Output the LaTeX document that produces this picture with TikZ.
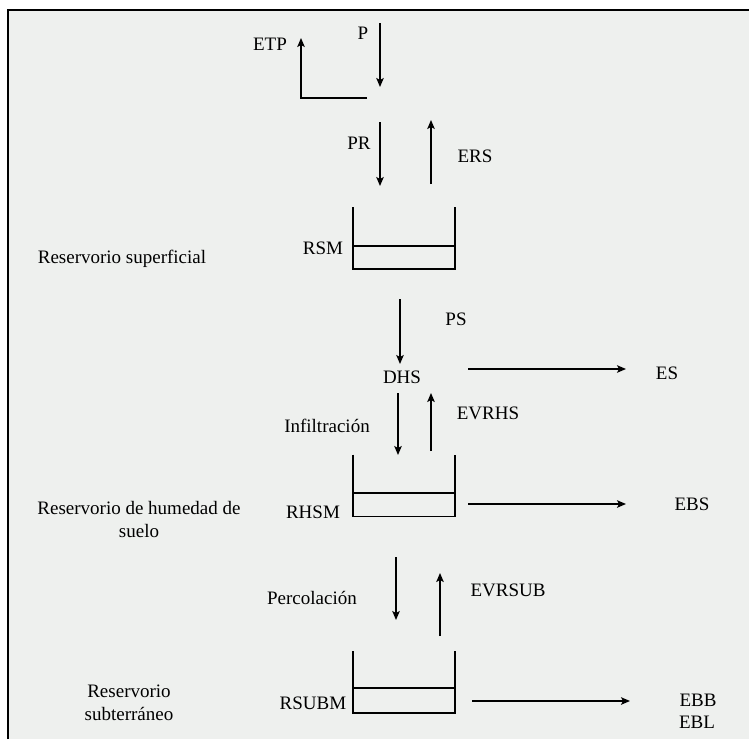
\documentclass[tikz,border=0pt]{standalone}
\usepackage{fontspec}
\setmainfont{Liberation Serif}
\usetikzlibrary{arrows.meta}
\definecolor{bgfill}{RGB}{238,240,238}
\begin{document}
\begin{tikzpicture}[x=1pt,y=-1pt,
  lbl/.style={font=\fontsize{19}{23}\selectfont, inner sep=0pt},
  flow/.style={line width=1.4pt, -{Stealth[length=9pt,width=7.5pt,inset=2pt]}},
  plain/.style={line width=1.4pt},
  tank/.style={minimum width=102pt, minimum height=62pt, inner sep=0pt, outer sep=0pt}]
\useasboundingbox (0,0) rectangle (749,739);
\fill[white] (0,0) rectangle (749,739);
\fill[bgfill] (8,10) rectangle (749,739);
\draw[line width=2.2pt] (8,739) -- (8,10) -- (749,10);

% tanks
\node[tank] (rsm) at (404,238) {};
\node[tank] (rhsm) at (404,485.5) {};
\node[tank] (rsubm) at (404,682) {};
\foreach \t/\m in {rsm/246,rhsm/493,rsubm/688}{
  \draw[plain] (\t.north west) -- (\t.south west) -- (\t.south east) -- (\t.north east);
  \draw[plain] (\t.west |- 0,\m) -- (\t.east |- 0,\m);
}

% coordinates for free ends
\coordinate (pA) at (380,23);  \coordinate (pB) at (380,87);
\coordinate (eA) at (367,98);  \coordinate (eC) at (301,98); \coordinate (eB) at (301,38);
\coordinate (prA) at (380,122); \coordinate (prB) at (380,186);
\coordinate (ersA) at (431,184); \coordinate (ersB) at (431,120);
\coordinate (psA) at (400,299); \coordinate (psB) at (400,364);
\coordinate (inA) at (398,393); \coordinate (inB) at (398,455);
\coordinate (evA) at (431,451); \coordinate (evB) at (431,393);
\coordinate (esA) at (468,369); \coordinate (esB) at (626,369);
\coordinate (ebsA) at (468,504); \coordinate (ebsB) at (626,504);
\coordinate (peA) at (396,557); \coordinate (peB) at (396,620);
\coordinate (esubA) at (440,636); \coordinate (esubB) at (440,573);
\coordinate (ebbA) at (472,701); \coordinate (ebbB) at (630,701);

% arrows
\draw[flow] (pA) -- (pB);
\draw[flow] (eA) -- (eC) -- (eB);
\draw[flow] (prA) -- (prB);
\draw[flow] (ersA) -- (ersB);
\draw[flow] (psA) -- (psB);
\draw[flow] (inA) -- (inB);
\draw[flow] (evA) -- (evB);
\draw[flow] (esA) -- (esB);
\draw[flow] (ebsA) -- (ebsB);
\draw[flow] (peA) -- (peB);
\draw[flow] (esubA) -- (esubB);
\draw[flow] (ebbA) -- (ebbB);

% labels
\node[lbl] (lP) at (363,33) {P};
\node[lbl] (lETP) at (270,44) {ETP};
\node[lbl] (lPR) at (359,143) {PR};
\node[lbl] (lERS) at (475,156) {ERS};
\node[lbl] (lRSM) at (323,248) {RSM};
\node[lbl] (lRS) at (122,259) {Reservorio superficial};
\node[lbl] (lPS) at (456,319) {PS};
\node[lbl] (lDHS) at (402,377) {DHS};
\node[lbl] (lES) at (667,373) {ES};
\node[lbl] (lEVRHS) at (488,413) {EVRHS};
\node[lbl] (lInf) at (327,426) {Infiltración};
\node[lbl] (lRHSM) at (313,512) {RHSM};
\node[lbl] (lEBS) at (692,504) {EBS};
\node[lbl, align=center] (lRH) at (139,519) {Reservorio de humedad de\\suelo};
\node[lbl] (lPerc) at (312,598) {Percolación};
\node[lbl] (lEVRSUB) at (508,590) {EVRSUB};
\node[lbl] (lRSUBM) at (313,703) {RSUBM};
\node[lbl] (lEBB) at (698,700) {EBB};
\node[lbl] (lEBL) at (697,722) {EBL};
\node[lbl, align=center] (lRSub) at (129,703) {Reservorio\\subterráneo};
\end{tikzpicture}
\end{document}
